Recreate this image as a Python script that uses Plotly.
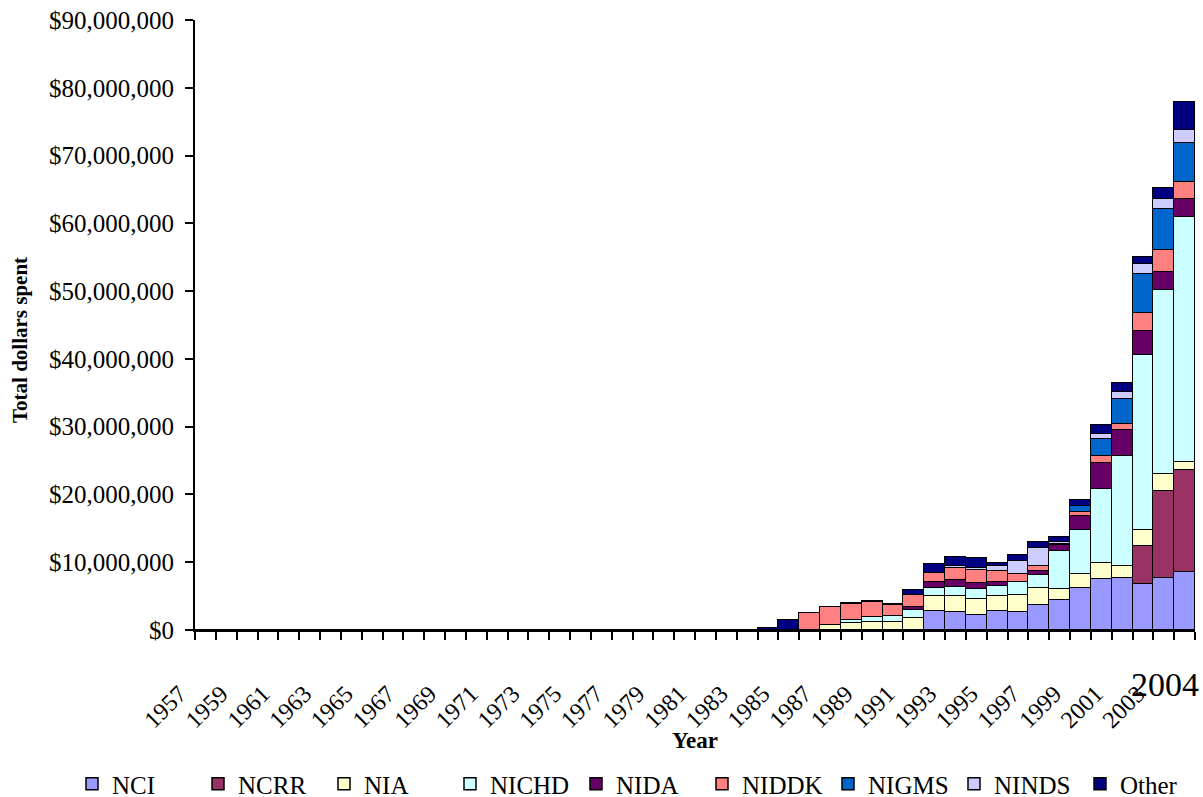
import plotly.graph_objects as go

# Fiscal years on the category axis
years = list(range(1957, 2005))
label_years = list(range(1957, 2004, 2))
last_year = 2004

# Spending by institute in millions of dollars for 1984-2004; earlier years are zero
funded_from = 1984
NCI = [0, 0, 0, 0, 0, 0, 0, 0, 2.8, 2.6, 2.2, 2.8, 2.7, 3.7, 4.5, 6.2, 7.5, 7.65, 6.8, 7.65, 8.5]
NCRR = [0, 0, 0, 0, 0, 0, 0, 0, 0, 0, 0, 0, 0, 0, 0, 0, 0, 0, 5.6, 12.85, 15.1]
NIA = [0, 0, 0, 0.8, 1.0, 1.25, 1.25, 1.75, 2.15, 2.4, 2.4, 2.25, 2.45, 2.5, 1.5, 2.05, 2.45, 1.75, 2.3, 2.5, 1.2]
NICHD = [0, 0, 0, 0, 0.5, 0.65, 0.85, 1.2, 1.3, 1.35, 1.4, 1.45, 2.0, 1.9, 5.7, 6.5, 10.85, 16.2, 25.9, 27.15, 36.1]
NIDA = [0, 0, 0, 0, 0, 0, 0, 0.4, 0.85, 1.0, 0.95, 0.55, 0, 0.6, 0.8, 2.05, 3.9, 3.85, 3.5, 2.6, 2.65]
NIDDK = [0, 0, 2.45, 2.55, 2.3, 2.2, 1.6, 1.85, 1.25, 1.75, 1.85, 1.6, 1.1, 0.75, 0.2, 0.55, 0.9, 0.9, 2.6, 3.3, 2.5]
NIGMS = [0, 0, 0, 0, 0, 0, 0, 0, 0, 0, 0, 0, 0, 0, 0, 0.95, 2.6, 3.8, 5.8, 6.05, 5.85]
NINDS = [0, 0, 0, 0, 0, 0, 0, 0, 0, 0.3, 0.4, 0.8, 1.9, 2.65, 0.3, 0, 0.75, 0.9, 1.5, 1.5, 1.85]
Other = [0.35, 1.5, 0, 0, 0.2, 0.25, 0.2, 0.65, 1.35, 1.35, 1.35, 0.5, 0.9, 0.9, 0.7, 0.9, 1.3, 1.45, 1.0, 1.6, 4.2]

series = [
    ("NCI", NCI, "#9999FF"),
    ("NCRR", NCRR, "#993366"),
    ("NIA", NIA, "#FFFFCC"),
    ("NICHD", NICHD, "#CCFFFF"),
    ("NIDA", NIDA, "#660066"),
    ("NIDDK", NIDDK, "#FF8080"),
    ("NIGMS", NIGMS, "#0066CC"),
    ("NINDS", NINDS, "#CCCCFF"),
    ("Other", Other, "#000080"),
]

SERIF = "Liberation Serif, Times New Roman, serif"
lead = [0] * (funded_from - years[0])

# Page geometry (pixels)
W, H = 1203, 797
M_L, M_R, M_T, M_B = 150, 8, 20, 167
PLOT_LEFT = 195                      # where the bar area begins
paper_w = W - M_L - M_R
paper_h = H - M_T - M_B
x_lo, x_hi = years[0] - 0.5, last_year + 0.5
px_per_year = (W - M_R - PLOT_LEFT) / (x_hi - x_lo)
LABEL_SHIFT = 26                     # rotated year labels sit left of their bar centres


def px(x):
    return (x - M_L) / paper_w


def py(y):
    return (H - M_B - y) / paper_h


lab_lo = x_lo - (PLOT_LEFT - M_L - LABEL_SHIFT) / px_per_year
lab_hi = lab_lo + paper_w / px_per_year

fig = go.Figure()
for name, vals, color in series:
    fig.add_trace(go.Bar(
        x=years,
        y=[v * 1e6 for v in lead + vals],
        name=name,
        width=1,
        marker=dict(color=color, line=dict(color="black", width=1.5)),
    ))

# empty trace that attaches the year-label axis to the chart
fig.add_trace(go.Scatter(x=[], y=[], xaxis="x2", yaxis="y", showlegend=False, hoverinfo="skip"))

fig.update_layout(
    barmode="stack",
    bargap=0,
    width=W,
    height=H,
    margin=dict(l=M_L, r=M_R, t=M_T, b=M_B, autoexpand=False),
    paper_bgcolor="white",
    plot_bgcolor="rgba(0,0,0,0)",
    font=dict(family=SERIF, color="black", size=22),
    showlegend=True,
    legend=dict(
        orientation="h",
        x=px(72), xanchor="left",
        y=py(784), yanchor="middle",
        font=dict(family=SERIF, size=25, color="black"),
        traceorder="normal",
        itemwidth=30,
        entrywidth=81, entrywidthmode="pixels",
    ),
    xaxis=dict(
        domain=[px(PLOT_LEFT), 1],
        range=[x_lo, x_hi],
        showticklabels=False,
        ticks="",
        showline=True, linecolor="black", linewidth=2,
        showgrid=False, zeroline=False,
        minor=dict(ticks="outside", tick0=x_lo, dtick=1,
                   ticklen=8, tickwidth=2, tickcolor="black", showgrid=False),
        title=dict(text="<b>Year</b>", font=dict(family=SERIF, size=23), standoff=101),
    ),
    # year labels, on an axis of the same scale shifted slightly left
    xaxis2=dict(
        domain=[0, 1],
        anchor="y",
        range=[lab_lo, lab_hi],
        tickmode="array",
        tickvals=label_years,
        ticktext=[str(y) for y in label_years],
        tickangle=-45,
        ticks="",
        ticklabelstandoff=44,
        tickfont=dict(family=SERIF, size=24),
        showline=False, showgrid=False, zeroline=False,
    ),
    yaxis=dict(
        range=[0, 90e6],
        tickmode="linear", tick0=0, dtick=10e6,
        tickprefix="$", tickformat=",.0f",
        ticks="outside", ticklen=8, tickwidth=2, tickcolor="black",
        ticklabelstandoff=6,
        tickfont=dict(family=SERIF, size=25),
        showline=True, linecolor="black", linewidth=2,
        showgrid=False, zeroline=False,
    ),
)

fig.add_annotation(
    x=px(20), xref="paper", y=py(340), yref="paper",
    text="<b>Total dollars spent</b>", textangle=-90, showarrow=False,
    xanchor="center", yanchor="middle",
    font=dict(family=SERIF, size=21, color="black"),
)

# Final year label, set apart in a larger face
fig.add_annotation(
    x=last_year, xref="x", y=py(664), yref="paper",
    text=str(last_year), showarrow=False,
    xanchor="right", yanchor="top", xshift=16,
    font=dict(family=SERIF, size=34, color="black"),
)

fig.write_html("out.html")
